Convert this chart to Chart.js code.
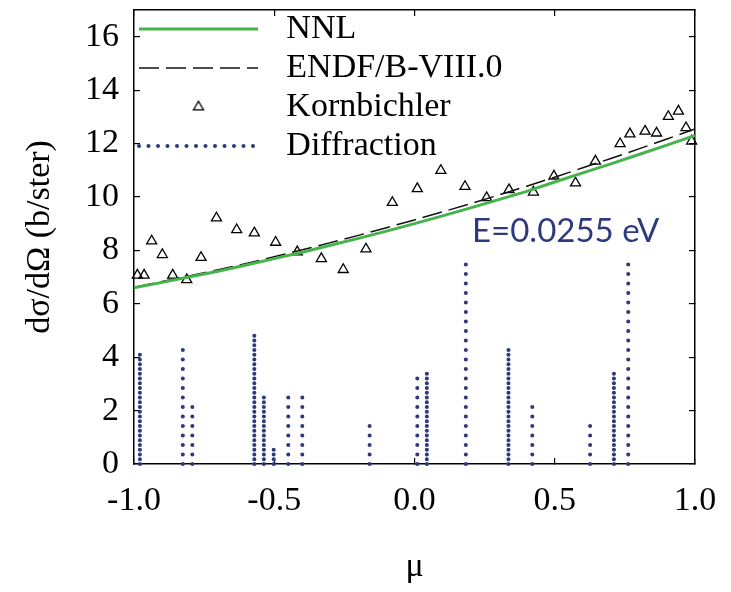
<!DOCTYPE html>
<html>
<head>
<meta charset="utf-8">
<script src="https://cdn.jsdelivr.net/npm/chart.js@4.4.1/dist/chart.umd.min.js"></script>
<style>
  html, body { margin: 0; padding: 0; background: #fff; }
  #wrap { position: relative; width: 731px; height: 592px; }
</style>
</head>
<body>
<div id="wrap"><canvas id="chart" width="731" height="592"></canvas></div>
<script>
// evaluated curves on a mu grid
const muGrid = [-1.0, -0.9, -0.8, -0.7, -0.6, -0.5, -0.4, -0.3, -0.2, -0.1, 0.0,
                0.1, 0.2, 0.3, 0.4, 0.5, 0.6, 0.7, 0.8, 0.9, 1.0];
const nnl  = [6.60, 6.80, 7.01, 7.22, 7.45, 7.69, 7.93, 8.19, 8.45, 8.72, 9.00,
              9.29, 9.59, 9.90, 10.21, 10.56, 10.90, 11.24, 11.59, 11.94, 12.30];
const endf = [6.62, 6.83, 7.05, 7.27, 7.51, 7.76, 8.02, 8.29, 8.56, 8.85, 9.14,
              9.44, 9.75, 10.07, 10.40, 10.74, 11.09, 11.44, 11.80, 12.17, 12.55];

// Kornbichler measurement
const kbMu = [-0.988, -0.964, -0.937, -0.899, -0.862, -0.812, -0.761, -0.706, -0.634, -0.571,
              -0.495, -0.418, -0.332, -0.254, -0.173, -0.079, 0.010, 0.094, 0.180, 0.257,
              0.337, 0.424, 0.497, 0.574, 0.645, 0.733, 0.768, 0.822, 0.863, 0.905,
              0.941, 0.968, 0.988];
const kbXs = [7.07, 7.07, 8.35, 7.84, 7.07, 6.90, 7.73, 9.21, 8.77, 8.65,
              8.30, 7.94, 7.69, 7.28, 8.05, 9.79, 10.31, 10.99, 10.39, 9.97,
              10.27, 10.18, 10.78, 10.52, 11.34, 11.99, 12.36, 12.46, 12.39, 13.01,
              13.21, 12.59, 12.09];

// Bragg diffraction peaks
const diffMu     = [-0.979, -0.826, -0.792, -0.571, -0.537, -0.502, -0.450, -0.400, -0.160,
                    0.010, 0.044, 0.183, 0.335, 0.420, 0.626, 0.711, 0.762];
const diffHeight = [4.03, 4.38, 2.25, 4.74, 2.60, 0.47, 2.60, 2.60, 1.54,
                    3.31, 3.31, 7.57, 4.38, 2.25, 1.54, 3.31, 7.57];
// peaks that fall on almost the same mu as another one
const diffMu2     = [-0.979, -0.571, -0.537, -0.502, 0.044, 0.335, 0.711];
const diffHeight2 = [4.20, 4.91, 2.42, 0.65, 3.49, 4.20, 3.49];

const xTicks = [-1.0, -0.5, 0.0, 0.5, 1.0];
const yTicks = [0, 2, 4, 6, 8, 10, 12, 14, 16];

const serif = 'Liberation Serif';
const green = '#45b449';
const navy = '#2f3a7c';
const markerRadius = 5.8;
const dotGap = 9.5;

function curve(xs, ys) {
  return xs.map((m, i) => ({x: m, y: ys[i]}));
}

// each peak is a vertical stem from zero, separated by a gap
function stems(mu, h) {
  const pts = [];
  mu.forEach((m, i) => {
    pts.push({x: m, y: 0}, {x: m, y: h[i]}, {x: m, y: null});
  });
  return pts;
}

// small open triangle for the legend (pointStyleWidth would stretch the built-in one)
function triangleIcon(r) {
  const c = document.createElement('canvas');
  c.width = Math.ceil(r * 2 + 4);
  c.height = Math.ceil(r * 2 + 4);
  const ctx = c.getContext('2d');
  ctx.lineWidth = 1.3;
  ctx.strokeStyle = '#000';
  ctx.beginPath();
  const cx = c.width / 2, cy = c.height / 2;
  for (let k = 0; k < 3; k++) {
    const a = k * 2 * Math.PI / 3;
    ctx.lineTo(cx + Math.sin(a) * r, cy - Math.cos(a) * r);
  }
  ctx.closePath();
  ctx.stroke();
  return c;
}

const energyNote = {
  id: 'energyNote',
  afterDatasetsDraw(chart, args, opts) {
    const {ctx, scales: {x, y}} = chart;
    ctx.save();
    ctx.font = opts.font;
    ctx.fillStyle = opts.color;
    ctx.textBaseline = 'alphabetic';
    ctx.fillText(opts.text, x.getPixelForValue(opts.at[0]), y.getPixelForValue(opts.at[1]));
    ctx.restore();
  }
};

// a vertical legend in the chart area starts at y=0, move it down to the frame
const legendInFrame = {
  id: 'legendInFrame',
  afterLayout(chart, args, opts) {
    const lg = chart.legend;
    if (!lg) return;
    lg.top = chart.chartArea.top + opts.shift;
    lg.bottom = lg.top + lg.height;
  }
};

const inwardGrid = {drawOnChartArea: false, tickLength: -6, color: '#000', lineWidth: 1.2};
const frame = {display: true, color: '#000', width: 1.5};
const tickFont = {family: serif, size: 34};

// fixed axis sizes, no extra room for half labels
const fixHeight = h => s => { s.height = h; s.paddingLeft = 0; s.paddingRight = 0; };
const fixWidth = w => s => { s.width = w; s.paddingTop = 0; s.paddingBottom = 0; };

new Chart(document.getElementById('chart'), {
  type: 'scatter',
  data: {
    datasets: [
      {
        type: 'line', label: 'NNL', data: curve(muGrid, nnl),
        borderColor: green, borderWidth: 3, pointRadius: 0, pointStyle: 'line'
      },
      {
        type: 'line', label: 'ENDF/B-VIII.0', data: curve(muGrid, endf),
        borderColor: '#111', borderWidth: 1.5, borderDash: [20, 7], pointRadius: 0, pointStyle: 'line'
      },
      {
        label: 'Kornbichler', data: curve(kbMu, kbXs),
        pointStyle: 'triangle', pointRadius: markerRadius, borderWidth: 1.3,
        borderColor: '#000', backgroundColor: 'rgba(0,0,0,0)', clip: false
      },
      {
        type: 'line', label: 'Diffraction', data: stems(diffMu, diffHeight),
        borderColor: navy, borderWidth: 4.1, borderDash: [0, dotGap], borderCapStyle: 'round',
        pointRadius: 0, pointStyle: 'line', spanGaps: false, clip: false
      },
      {
        type: 'line', label: 'Diffraction (overlap)', data: stems(diffMu2, diffHeight2),
        borderColor: navy, borderWidth: 4.1, borderDash: [0, dotGap], borderDashOffset: dotGap / 2,
        borderCapStyle: 'round', pointRadius: 0, spanGaps: false, clip: false
      }
    ]
  },
  options: {
    responsive: false,
    animation: false,
    events: [],
    layout: {padding: 0},
    plugins: {
      tooltip: {enabled: false},
      legend: {
        position: 'chartArea',
        align: 'start',
        labels: {
          usePointStyle: true,
          pointStyleWidth: 119,
          boxHeight: 8.2,
          padding: 5,
          color: '#000',
          font: {family: serif, size: 34},
          filter: item => item.datasetIndex < 4,
          generateLabels: chart => chart.data.datasets.map((ds, i) => ({
            text: '\u2004' + ds.label,
            datasetIndex: i,
            hidden: false,
            fontColor: '#000',
            strokeStyle: ds.borderColor,
            fillStyle: 'rgba(0,0,0,0)',
            lineWidth: ds.borderWidth,
            lineDash: ds.borderDash || [],
            lineCap: ds.borderCapStyle || 'butt',
            pointStyle: ds.pointStyle === 'triangle' ? triangleIcon(markerRadius) : 'line'
          }))
        }
      },
      legendInFrame: {shift: -3},
      energyNote: {text: 'E=0.0255 eV', at: [0.205, 8.31], font: '33px Lato', color: navy}
    },
    scales: {
      x: {
        type: 'linear', position: 'bottom', min: -1, max: 1, bounds: 'data',
        afterBuildTicks: s => { s.ticks = xTicks.map(v => ({value: v})); },
        afterFit: fixHeight(128),
        ticks: {callback: v => v.toFixed(1), color: '#000', font: tickFont, padding: 23, maxRotation: 0, autoSkip: false},
        grid: inwardGrid,
        border: frame,
        title: {display: true, text: 'μ', color: '#000', font: tickFont, padding: {top: 0, bottom: 5}}
      },
      x2: {
        type: 'linear', position: 'top', min: -1, max: 1, bounds: 'data',
        afterBuildTicks: s => { s.ticks = xTicks.map(v => ({value: v})); },
        afterFit: fixHeight(10),
        ticks: {display: false},
        grid: inwardGrid,
        border: frame
      },
      y: {
        type: 'linear', position: 'left', min: 0, max: 17, bounds: 'data',
        afterBuildTicks: s => { s.ticks = yTicks.map(v => ({value: v})); },
        afterFit: fixWidth(134),
        ticks: {color: '#000', font: tickFont, padding: 21, autoSkip: false},
        grid: inwardGrid,
        border: frame,
        title: {display: true, text: 'dσ/dΩ (b/ster)', color: '#000', font: tickFont, padding: {top: 20, bottom: 0}}
      },
      y2: {
        type: 'linear', position: 'right', min: 0, max: 17, bounds: 'data',
        afterBuildTicks: s => { s.ticks = yTicks.map(v => ({value: v})); },
        afterFit: fixWidth(36),
        ticks: {display: false},
        grid: inwardGrid,
        border: frame
      }
    }
  },
  plugins: [energyNote, legendInFrame]
});
</script>
</body>
</html>
